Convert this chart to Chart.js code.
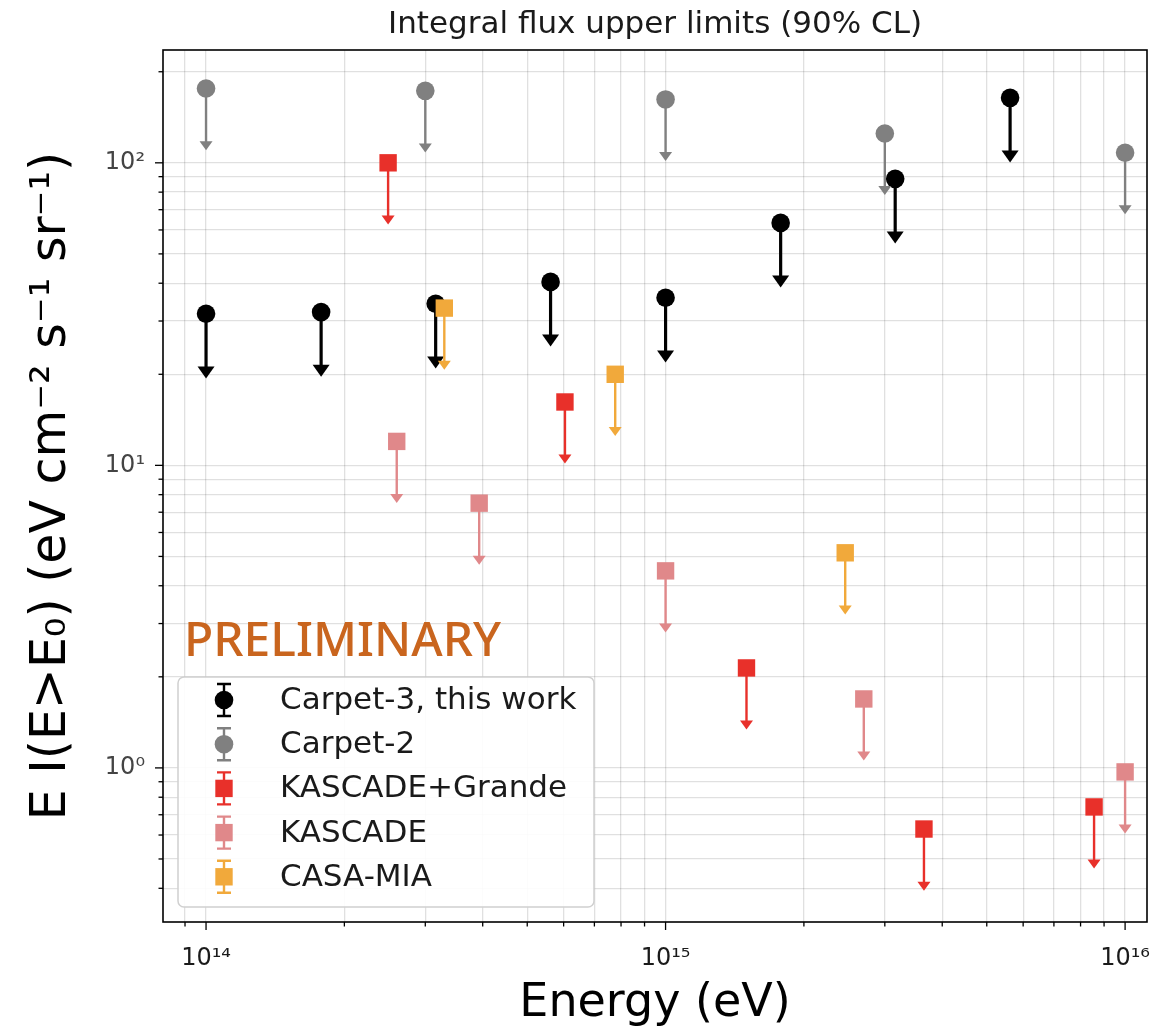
<!DOCTYPE html>
<html>
<head>
<meta charset="utf-8">
<script src="https://cdn.jsdelivr.net/npm/chart.js@4.4.1/dist/chart.umd.min.js"></script>
<style>
html,body{margin:0;padding:0;background:#fff;}
#wrap{width:1176px;height:1031px;position:relative;}
</style>
</head>
<body>
<div id="wrap"><canvas id="c"></canvas></div>
<script>
// ---------- texts ----------
const chartTitle = 'Integral flux upper limits (90% CL)';
const xAxisTitle = 'Energy (eV)';
const yAxisTitle = 'E I(E>E₀) (eV cm⁻² s⁻¹ sr⁻¹)';
const watermarkText = 'PRELIMINARY';
const seriesNames = ['Carpet-3, this work', 'Carpet-2', 'KASCADE+Grande', 'KASCADE', 'CASA-MIA'];

// ---------- data (energy in eV, flux upper limit) ----------
const carpet3Energy = [1e14, 1.78e14, 3.16e14, 5.62e14, 1e15, 1.78e15, 3.16e15, 5.62e15];
const carpet3Flux   = [31.7, 32.1, 34.2, 40.4, 35.8, 63.3, 88.5, 164];

const carpet2Energy = [1e14, 3e14, 1e15, 3e15, 1e16];
const carpet2Flux   = [176, 173, 162, 125, 108];

const kgEnergy = [2.49e14, 6.04e14, 1.5e15, 3.65e15, 8.56e15];
const kgFlux   = [100, 16.2, 2.14, 0.628, 0.743];

const kascadeEnergy = [2.6e14, 3.93e14, 1e15, 2.7e15, 1e16];
const kascadeFlux   = [12.0, 7.5, 4.48, 1.69, 0.97];

const casaEnergy = [3.3e14, 7.77e14, 2.46e15];
const casaFlux   = [33.1, 20.0, 5.14];

// ---------- axes / ticks ----------
const xMin = 8.06e13, xMax = 1.116e16;
const yMin = 0.3095, yMax = 236;
const xMajorTicks  = [1e14, 1e15, 1e16];
const xMajorLabels = ['10¹⁴', '10¹⁵', '10¹⁶'];
const xMinorTicks  = [9e13, 2e14, 3e14, 4e14, 5e14, 6e14, 7e14, 8e14, 9e14,
                      2e15, 3e15, 4e15, 5e15, 6e15, 7e15, 8e15, 9e15];
const yMajorTicks  = [1, 10, 100];
const yMajorLabels = ['10⁰', '10¹', '10²'];
const yMinorTicks  = [0.4, 0.5, 0.6, 0.7, 0.8, 0.9, 2, 3, 4, 5, 6, 7, 8, 9,
                      20, 30, 40, 50, 60, 70, 80, 90, 200];

// ---------- styles ----------
const ARROW_FACTOR = 0.67;
const seriesStyle = [
  {color: '#000000', point: 'circle', radius: 9.3, lw: 3.2, headW: 17, headH: 12},
  {color: '#808080', point: 'circle', radius: 9.3, lw: 2.4, headW: 13, headH: 9},
  {color: '#e8302a', point: 'rect',   radius: 12.3, lw: 2.4, headW: 13, headH: 9},
  {color: '#e0888a', point: 'rect',   radius: 12.3, lw: 2.4, headW: 13, headH: 9},
  {color: '#f1a93b', point: 'rect',   radius: 12.3, lw: 2.4, headW: 13, headH: 9}
];
const energies = [carpet3Energy, carpet2Energy, kgEnergy, kascadeEnergy, casaEnergy];
const fluxes   = [carpet3Flux, carpet2Flux, kgFlux, kascadeFlux, casaFlux];

const datasets = seriesNames.map((name, i) => ({
  label: name,
  data: energies[i].map((e, k) => ({x: e, y: fluxes[i][k]})),
  showLine: false,
  pointStyle: seriesStyle[i].point,
  pointRadius: seriesStyle[i].radius,
  pointHoverRadius: seriesStyle[i].radius,
  pointBackgroundColor: seriesStyle[i].color,
  pointBorderWidth: 0,
  order: seriesNames.length - i
}));

function isMajor(list, v) { return list.indexOf(v) >= 0; }

// arrows (upper limits), drawn just before each dataset's markers
const arrowPlugin = {
  id: 'arrows',
  beforeDatasetDraw(chart, args) {
    const i = args.index, st = seriesStyle[i];
    const xs = chart.scales.x, ys = chart.scales.y, ctx = chart.ctx, a = chart.chartArea;
    ctx.save();
    ctx.beginPath(); ctx.rect(a.left, a.top, a.right - a.left, a.bottom - a.top); ctx.clip();
    chart.data.datasets[i].data.forEach(p => {
      const x = xs.getPixelForValue(p.x);
      const y0 = ys.getPixelForValue(p.y);
      const y1 = ys.getPixelForValue(p.y * ARROW_FACTOR);
      ctx.strokeStyle = st.color; ctx.lineWidth = st.lw;
      ctx.beginPath(); ctx.moveTo(x, y0); ctx.lineTo(x, y1 + 2); ctx.stroke();
      ctx.fillStyle = st.color;
      ctx.beginPath();
      ctx.moveTo(x - st.headW / 2, y1); ctx.lineTo(x + st.headW / 2, y1); ctx.lineTo(x, y1 + st.headH);
      ctx.closePath(); ctx.fill();
    });
    ctx.restore();
  }
};

function drawMarker(ctx, st, x, y) {
  ctx.fillStyle = st.color;
  ctx.beginPath();
  if (st.point === 'circle') { ctx.arc(x, y, st.radius, 0, Math.PI * 2); }
  else { const h = st.radius * Math.SQRT1_2; ctx.rect(x - h, y - h, 2 * h, 2 * h); }
  ctx.fill();
}

// frame, tick marks, watermark, legend
const decorPlugin = {
  id: 'decor',
  afterDatasetsDraw(chart) {
    const ctx = chart.ctx, a = chart.chartArea;
    ctx.save();
    // tick marks
    ctx.strokeStyle = '#000'; ctx.lineWidth = 1.3;
    const xs = chart.scales.x, ys = chart.scales.y;
    xs.ticks.forEach((t, k) => {
      const px = xs.getPixelForTick(k), len = isMajor(xMajorTicks, t.value) ? 8 : 4.5;
      ctx.beginPath(); ctx.moveTo(px, a.bottom); ctx.lineTo(px, a.bottom + len); ctx.stroke();
    });
    ys.ticks.forEach((t, k) => {
      const py = ys.getPixelForTick(k), len = isMajor(yMajorTicks, t.value) ? 8 : 4.5;
      ctx.beginPath(); ctx.moveTo(a.left, py); ctx.lineTo(a.left - len, py); ctx.stroke();
    });
    // frame
    ctx.lineWidth = 1.6; ctx.strokeStyle = '#000';
    ctx.strokeRect(a.left, a.top, a.right - a.left, a.bottom - a.top);

    // watermark
    ctx.fillStyle = '#c9651e';
    ctx.font = '500 48px "Noto Sans", "DejaVu Sans", sans-serif';
    ctx.textAlign = 'left'; ctx.textBaseline = 'alphabetic';
    ctx.fillText(watermarkText, 184, 656);

    // legend
    const bx = 178, by = 677, bw = 416, bh = 230;
    ctx.beginPath();
    ctx.roundRect(bx, by, bw, bh, 6);
    ctx.fillStyle = 'rgba(255,255,255,0.9)'; ctx.fill();
    ctx.strokeStyle = '#d0d0d0'; ctx.lineWidth = 1.5; ctx.stroke();
    const rowY0 = 700, rowStep = 44.2, mx = 224;
    ctx.font = '31px "DejaVu Sans", sans-serif';
    seriesNames.forEach((name, i) => {
      const st = seriesStyle[i], y = rowY0 + i * rowStep;
      ctx.strokeStyle = st.color; ctx.lineWidth = 2.4;
      ctx.beginPath();
      ctx.moveTo(mx, y - 16); ctx.lineTo(mx, y + 16);
      ctx.moveTo(mx - 7, y - 16); ctx.lineTo(mx + 7, y - 16);
      ctx.moveTo(mx - 7, y + 16); ctx.lineTo(mx + 7, y + 16);
      ctx.stroke();
      drawMarker(ctx, st, mx, y);
      ctx.fillStyle = '#1a1a1a'; ctx.textAlign = 'left'; ctx.textBaseline = 'middle';
      ctx.fillText(name, 280, y + 1);
    });
    ctx.restore();
  }
};

new Chart(document.getElementById('c'), {
  type: 'scatter',
  data: {datasets},
  options: {
    responsive: true,
    maintainAspectRatio: false,
    animation: false,
    events: [],
    layout: {padding: {left: 0, right: 29, top: 0, bottom: 0}},
    plugins: {
      legend: {display: false},
      tooltip: {enabled: false},
      title: {
        display: true, text: chartTitle, color: '#1a1a1a', fullSize: false,
        font: {family: '"DejaVu Sans", sans-serif', size: 31, weight: 'normal', lineHeight: 1.2},
        padding: {top: 6.4, bottom: 6.4}
      }
    },
    scales: {
      x: {
        type: 'logarithmic', position: 'bottom', min: xMin, max: xMax, bounds: 'data',
        afterBuildTicks: s => {
          s.ticks = xMajorTicks.concat(xMinorTicks).sort((p, q) => p - q)
            .map(v => ({value: v, major: isMajor(xMajorTicks, v)}));
        },
        afterFit: s => { s.height = 109; },
        ticks: {
          autoSkip: false, maxRotation: 0, minRotation: 0, padding: 22, color: '#1a1a1a',
          font: {family: '"DejaVu Sans", sans-serif', size: 24},
          callback: v => { const k = xMajorTicks.indexOf(v); return k >= 0 ? xMajorLabels[k] : ''; }
        },
        grid: {color: 'rgba(0,0,0,0.12)', lineWidth: 1.3, drawTicks: false},
        border: {display: false},
        title: {
          display: true, text: xAxisTitle, color: '#000',
          font: {family: '"DejaVu Sans", sans-serif', size: 46, lineHeight: 1},
          padding: {top: 0, bottom: 4}
        }
      },
      y: {
        type: 'logarithmic', position: 'left', min: yMin, max: yMax, bounds: 'data',
        afterBuildTicks: s => {
          s.ticks = yMajorTicks.concat(yMinorTicks).sort((p, q) => p - q)
            .map(v => ({value: v, major: isMajor(yMajorTicks, v)}));
        },
        afterFit: s => { s.width = 163; },
        ticks: {
          autoSkip: false, padding: 18, color: '#444',
          font: {family: '"DejaVu Sans", sans-serif', size: 24},
          callback: v => { const k = yMajorTicks.indexOf(v); return k >= 0 ? yMajorLabels[k] : ''; }
        },
        grid: {color: 'rgba(0,0,0,0.12)', lineWidth: 1.3, drawTicks: false},
        border: {display: false},
        title: {
          display: true, text: yAxisTitle, color: '#000',
          font: {family: '"DejaVu Sans", sans-serif', size: 49, lineHeight: 1},
          padding: {top: 28, bottom: 0}
        }
      }
    }
  },
  plugins: [arrowPlugin, decorPlugin]
});
</script>
</body>
</html>
